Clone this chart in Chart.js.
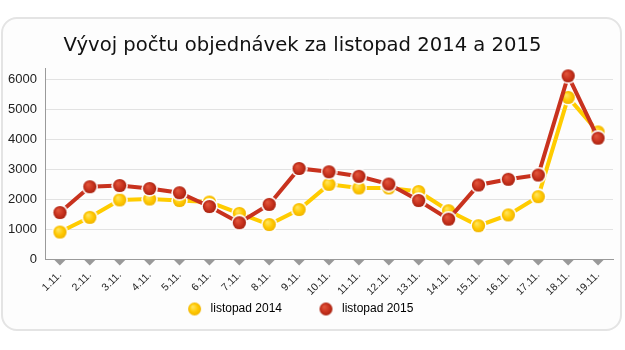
<!DOCTYPE html>
<html>
<head>
<meta charset="utf-8">
<script src="https://cdn.jsdelivr.net/npm/chart.js@4.4.0/dist/chart.umd.min.js"></script>
<style>
  html, body { margin: 0; padding: 0; background: #fff; }
  #wrap { position: relative; width: 625px; height: 350px; }
  #box { position: absolute; left: 1px; top: 17px; width: 617px; height: 310px;
         border: 2px solid #e4e4e4; border-radius: 16px; background: #fdfdfd; }
  #c { position: absolute; left: 0; top: 0; }
</style>
</head>
<body>
<div id="wrap">
  <div id="box"></div>
  <canvas id="c" width="625" height="350"></canvas>
</div>
<script>
const TITLE = 'Vývoj počtu objednávek za listopad 2014 a 2015';
const days = ['1.11.','2.11.','3.11.','4.11.','5.11.','6.11.','7.11.','8.11.','9.11.','10.11.',
              '11.11.','12.11.','13.11.','14.11.','15.11.','16.11.','17.11.','18.11.','19.11.'];
const listopad2014 = [900,1390,1970,2000,1950,1900,1520,1150,1650,2490,2370,2370,2250,1610,1110,1470,2080,5390,4240];
const listopad2015 = [1550,2410,2450,2350,2210,1750,1210,1820,3020,2910,2760,2500,1950,1330,2470,2660,2800,6110,4030];
const yTicks = [0,1000,2000,3000,4000,5000,6000];

const FONT = "'Liberation Sans', Arial, sans-serif";
const TFONT = "'DejaVu Sans', sans-serif";

function makeDot(base, light, dark, w, h, cx, cy, r, ring) {
  const cv = document.createElement('canvas');
  cv.width = w; cv.height = h;
  const g = cv.getContext('2d');
  if (ring) {
    g.beginPath(); g.arc(cx, cy, r + ring, 0, Math.PI * 2);
    g.fillStyle = '#ffffff'; g.fill();
  }
  const grad = g.createRadialGradient(cx - r * 0.3, cy - r * 0.35, r * 0.1, cx, cy, r);
  grad.addColorStop(0, light);
  grad.addColorStop(0.6, base);
  grad.addColorStop(1, dark);
  g.beginPath(); g.arc(cx, cy, r, 0, Math.PI * 2);
  g.fillStyle = grad; g.fill();
  return cv;
}

const YEL = '#ffcc00', RED = '#c8321e';
const dotY = makeDot('#ffc800', '#ffe35a', '#f0b400', 17, 17, 8.5, 8.5, 6.6, 1.6);
const dotR = makeDot('#c8321e', '#e0543a', '#a8220f', 17, 17, 8.5, 8.5, 6.6, 1.6);
const legY = makeDot('#ffc800', '#ffe35a', '#f0b400', 15, 15, 7.5, 7.5, 6.5, 0);
const legR = makeDot('#c8321e', '#e0543a', '#a8220f', 15, 15, 7.5, 7.5, 6.5, 0);

const triPlugin = {
  id: 'tri',
  afterLayout(chart) {
    const l = chart.legend;
    if (l) { l.left -= 8.5; l.right -= 8.5; l.top -= 30; l.bottom -= 30; }
    const t = chart.titleBlock;
    if (t) { t.left -= 5; t.right -= 5; }
  },
  afterDraw(chart) {
    const xs = chart.scales.x, ctx = chart.ctx;
    const y0 = xs.top + 0.5;
    ctx.save();
    ctx.fillStyle = '#999999';
    xs.ticks.forEach((t, i) => {
      const x = xs.getPixelForTick(i);
      ctx.beginPath();
      ctx.moveTo(x - 6, y0);
      ctx.lineTo(x + 6, y0);
      ctx.lineTo(x, y0 + 6);
      ctx.closePath();
      ctx.fill();
    });
    ctx.restore();
  }
};

new Chart(document.getElementById('c'), {
  type: 'line',
  data: {
    labels: days,
    datasets: [
      { label: 'listopad 2015', data: listopad2015, borderColor: RED, borderWidth: 4,
        pointStyle: dotR, pointRadius: 8, pointHoverRadius: 8, tension: 0 },
      { label: 'listopad 2014', data: listopad2014, borderColor: YEL, borderWidth: 4,
        pointStyle: dotY, pointRadius: 8, pointHoverRadius: 8, tension: 0 }
    ]
  },
  options: {
    responsive: false,
    animation: false,
    layout: { padding: { left: 0, right: 10, top: 20, bottom: 0 } },
    plugins: {
      tooltip: { enabled: false },
      title: {
        display: true, text: TITLE, color: '#111',
        font: { family: TFONT, size: 19.6, weight: 'normal', lineHeight: 1.2 },
        padding: { top: 14, bottom: 10.5 }
      },
      legend: {
        position: 'bottom', reverse: true, maxHeight: 51,
        labels: {
          usePointStyle: true, pointStyleWidth: 20, boxHeight: 12, padding: 34,
          color: '#111', font: { family: FONT, size: 12 },
          generateLabels(chart) {
            return chart.data.datasets.map((d, i) => ({
              text: d.label, datasetIndex: i,
              pointStyle: i === 0 ? legR : legY,
              fillStyle: d.borderColor, strokeStyle: 'rgba(0,0,0,0)', lineWidth: 0,
              hidden: false
            }));
          }
        }
      }
    },
    scales: {
      x: {
        offset: true,
        grid: { display: false, drawTicks: false },
        border: { display: true, color: '#9a9a9a', width: 1 },
        ticks: { color: '#222', font: { family: FONT, size: 10.5 }, maxRotation: 45, minRotation: 45,
                 autoSkip: false, padding: 10 },
        afterFit(s) { s.height = 40; }
      },
      y: {
        min: 0, max: 6370,
        grid: { color: '#e2e2e2', drawTicks: false },
        border: { display: true, color: '#9a9a9a', width: 1 },
        ticks: { stepSize: 1000, includeBounds: false, color: '#222',
                 font: { family: FONT, size: 13 }, padding: 8,
                 callback: (v) => String(v) },
        afterBuildTicks(s) { s.ticks = yTicks.map(v => ({ value: v })); },
        afterFit(s) { s.width = 45; }
      }
    }
  },
  plugins: [triPlugin]
});
</script>
</body>
</html>
